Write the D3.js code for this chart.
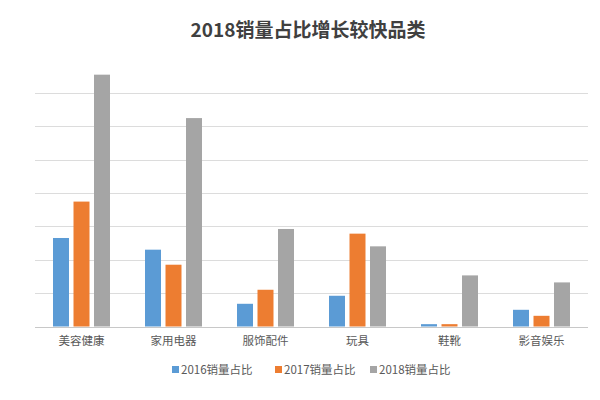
<!DOCTYPE html>
<html><head><meta charset="utf-8">
<script src="https://cdn.jsdelivr.net/npm/d3@7"></script>
<style>body{margin:0;background:#fff}svg{display:block;font-family:"Noto Sans CJK SC","Noto Sans",sans-serif}</style>
</head><body><svg id="c" width="600" height="400"></svg>
<script>
const categories = ["美容健康","家用电器","服饰配件","玩具","鞋靴","影音娱乐"];
const seriesNames = ["2016销量占比","2017销量占比","2018销量占比"];
const s2016 = [2.65, 2.30, 0.68, 0.92, 0.07, 0.50];
const s2017 = [3.74, 1.85, 1.10, 2.78, 0.07, 0.32];
const s2018 = [7.54, 6.24, 2.92, 2.40, 1.53, 1.32];
const colors = ["#5B9BD5","#ED7D31","#A5A5A5"];
const gridTicks = [0,1,2,3,4,5,6,7];

const series = [s2016, s2017, s2018];
const svg = d3.select("#c");
const x0 = d3.scaleBand().domain(categories).range([35.5, 587.5]).paddingInner(0).paddingOuter(0);
const x1 = d3.scaleBand().domain([0,1,2]).range([x0.bandwidth()/2-28.5, x0.bandwidth()/2+28.5]).paddingInner(0.22).paddingOuter(0);
const y = d3.scaleLinear().domain([0,7]).range([326.5, 92.7]);

svg.append("text").attr("x",308).attr("y",37).attr("text-anchor","middle")
  .attr("font-size",19).attr("font-weight","bold").attr("fill","#404040").text("2018销量占比增长较快品类");

svg.append("g").selectAll("line").data(gridTicks).join("line")
  .attr("x1",35).attr("x2",588).attr("y1",d=>Math.round(y(d))+0.5).attr("y2",d=>Math.round(y(d))+0.5)
  .attr("stroke",d=>d===0?"#c8c8c8":"#dcdcdc").attr("stroke-width",1);

const g = svg.append("g").selectAll("g").data(categories).join("g")
  .attr("transform",d=>`translate(${x0(d)},0)`);
g.selectAll("rect").data((d,i)=>series.map((s,k)=>({k,v:s[i]}))).join("rect")
  .attr("x",d=>x1(d.k)).attr("width",x1.bandwidth())
  .attr("y",d=>y(d.v)).attr("height",d=>y(0)-y(d.v)).attr("fill",d=>colors[d.k]);

const xAxis = svg.append("g").attr("transform",`translate(0,${y(0)})`).call(d3.axisBottom(x0).tickSize(0).tickPadding(10));
xAxis.select(".domain").remove();
xAxis.selectAll("text").attr("font-size",11.5).attr("fill","#595959").attr("font-family","'Noto Sans CJK SC',sans-serif");

const legendX = [172, 275, 370];
const lg = svg.append("g").selectAll("g").data(seriesNames).join("g")
  .attr("transform",(d,i)=>`translate(${legendX[i]},370)`);
lg.append("rect").attr("x",0).attr("y",-4).attr("width",7).attr("height",7).attr("fill",(d,i)=>colors[i]);
lg.append("text").attr("x",9).attr("y",4).attr("font-size",11.5).attr("fill","#595959").text(d=>d);
</script></body></html>
